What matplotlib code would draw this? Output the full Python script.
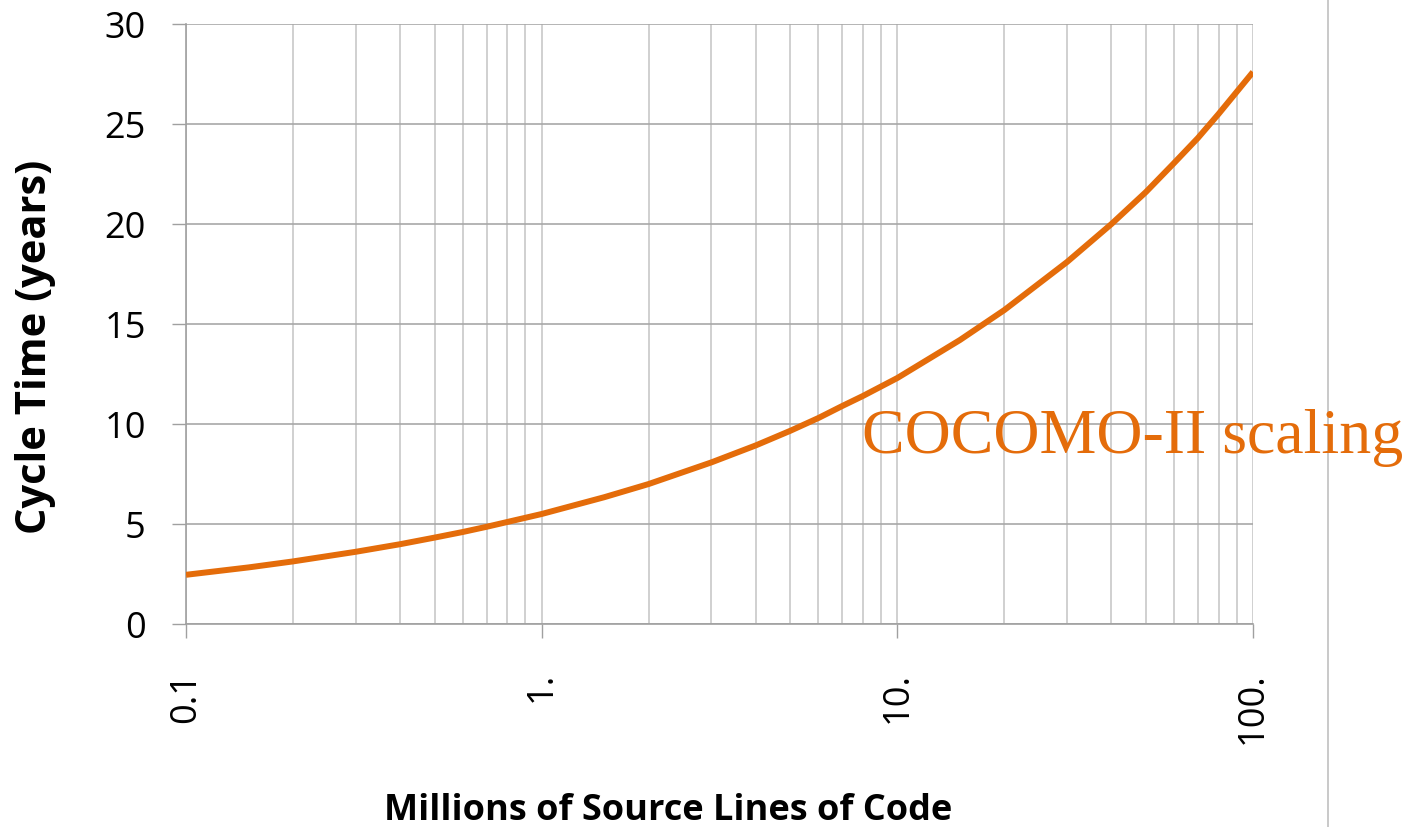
import matplotlib
matplotlib.use("Agg")
import matplotlib.pyplot as plt
from matplotlib.lines import Line2D

# Data
msloc = [0.1, 0.15, 0.2, 0.3, 0.4, 0.5, 0.6, 0.7, 1, 1.5, 2, 3, 4, 5, 6, 7, 8, 10,
         15, 20, 30, 40, 50, 60, 70, 80, 100]
cycle_years = [2.46, 2.83, 3.13, 3.61, 3.99, 4.32, 4.60, 4.86, 5.5, 6.34, 7.0, 8.08,
               8.93, 9.66, 10.3, 10.9, 11.4, 12.3, 14.2, 15.7, 18.1, 20.0, 21.6,
               23.05, 24.3, 25.5, 27.6]
x_ticks = [0.1, 1, 10, 100]
x_tick_labels = ["0.1", "1.", "10.", "100."]
y_ticks = [0, 5, 10, 15, 20, 25, 30]

orange = "#E46C0A"
plt.rcParams['font.family'] = ['Open Sans', 'DejaVu Sans']

fig = plt.figure(figsize=(14.16, 8.28), dpi=100)
ax = fig.add_axes([186/1416, 1-625/828, (1253-186)/1416, 600/828])

ax.plot(msloc, cycle_years, color=orange, lw=4.3, solid_capstyle='butt',
        solid_joinstyle='round', zorder=3)
ax.set_xscale('log')
ax.set_xlim(0.1, 100)
ax.set_ylim(0, 30)

ax.set_xticks(x_ticks)
ax.set_xticklabels(x_tick_labels, rotation=90, fontsize=26)
ax.set_xticks([m * d for d in [0.1, 1, 10] for m in range(2, 10)], minor=True)
ax.set_xticklabels([], minor=True)
ax.set_yticks(y_ticks)
ax.set_yticklabels([str(v) for v in y_ticks], fontsize=26)

ax.tick_params(axis='x', which='major', length=10, width=1, color='#a0a0a0', pad=24)
ax.tick_params(axis='x', which='minor', length=0)
ax.tick_params(axis='y', which='major', length=10, width=1, color='#a0a0a0', pad=19)

ax.grid(True, axis='x', which='both', color='#c8c8c8', lw=1.2)
ax.grid(True, axis='y', which='major', color='#a8a8a8', lw=1.2)
ax.set_axisbelow(True)

for s in ['top', 'right']:
    ax.spines[s].set_visible(False)
for s in ['left', 'bottom']:
    ax.spines[s].set_color('#a0a0a0')
    ax.spines[s].set_linewidth(1.2)

ax.set_xlabel("Millions of Source Lines of Code", fontsize=26, fontweight='bold')
ax.xaxis.set_label_coords(668/1416, 1-820/828, transform=fig.transFigure)
ax.xaxis.label.set_va('baseline')
ax.set_ylabel("Cycle Time (years)", fontsize=30, fontweight='bold')
ax.yaxis.set_label_coords(36/1416, 1-347/828, transform=fig.transFigure)
ax.yaxis.label.set_va('center')

fig.text(862/1416, 1-453/828, "COCOMO-II scaling", color=orange, fontsize=46,
         family=['Liberation Serif', 'DejaVu Serif'], ha='left', va='baseline')

fig.add_artist(Line2D([1328/1416, 1328/1416], [0, 1], color='#c0c0c0', lw=1.2,
                      transform=fig.transFigure))

fig.savefig("out.png", dpi=100)
